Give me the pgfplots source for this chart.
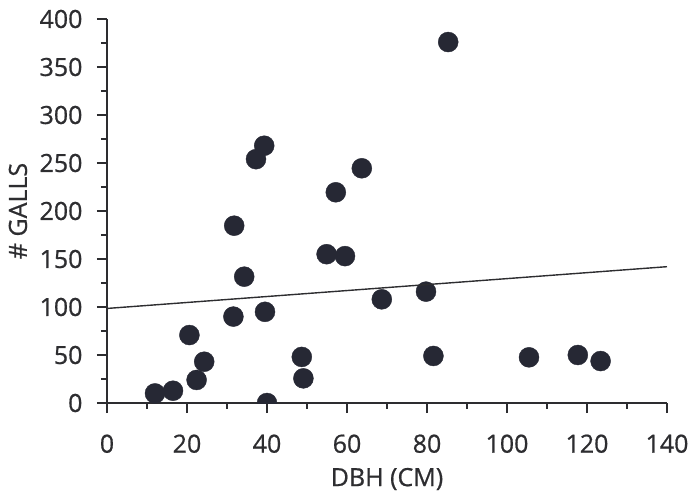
\documentclass[border=0pt]{standalone}
\usepackage{fontspec}
\setmainfont{Open Sans}[FakeBold=0.7]
\usepackage{pgfplots}
\pgfplotsset{compat=1.18}
\definecolor{txt}{RGB}{45,45,48}
\definecolor{dot}{RGB}{38,40,52}
\begin{document}
\begin{tikzpicture}
\path[use as bounding box] (-107pt,-96pt) rectangle (585pt,403pt);
\begin{axis}[
  at={(0pt,0pt)}, anchor=south west,
  scale only axis, width=560pt, height=384pt,
  xmin=0, xmax=140, ymin=0, ymax=400,
  axis lines=left, axis line style={-, txt, line width=1.2pt},
  xtick={0,20,...,140}, ytick={0,50,...,400},
  minor xtick={10,30,...,130}, minor ytick={25,75,...,375},
  tick align=outside,
  major tick length=10pt, minor tick length=6pt,
  tick style={txt, line width=1.2pt},
  /pgf/number format/assume math mode=true,
  ticklabel style={font=\fontsize{25}{30}\selectfont, text=txt},
  yticklabel style={xshift=-11pt},
  xticklabel style={yshift=-18pt},
  label style={font=\fontsize{25}{30}\selectfont, text=txt},
  xlabel={DBH (CM)}, ylabel={\# GALLS},
  xlabel style={at={(axis description cs:0.5,0)}, anchor=center, yshift=-76pt},
  ylabel style={at={(axis description cs:-0.159,0.5)}, anchor=center},
  clip marker paths=true,
]
\addplot[only marks, mark=*, mark size=10pt, mark options={fill=dot, draw=dot}] coordinates {
(12,10) (16.5,12.8) (20.6,70.8) (22.4,24) (24.3,43) (31.6,90) (31.8,184.7)
(34.3,131.6) (37.25,254) (39.3,268) (39.5,95) (40,0) (48.7,48) (49.1,25.7)
(54.9,155) (57.2,219.5) (59.5,153) (63.7,244.5) (68.7,108) (79.75,116)
(81.6,49) (85.3,376) (105.5,47.6) (117.7,50) (123.4,43.7)
};
\addplot[txt, line width=1.4pt] coordinates {(0,98.5) (140,142)};
\end{axis}
\end{tikzpicture}
\end{document}
